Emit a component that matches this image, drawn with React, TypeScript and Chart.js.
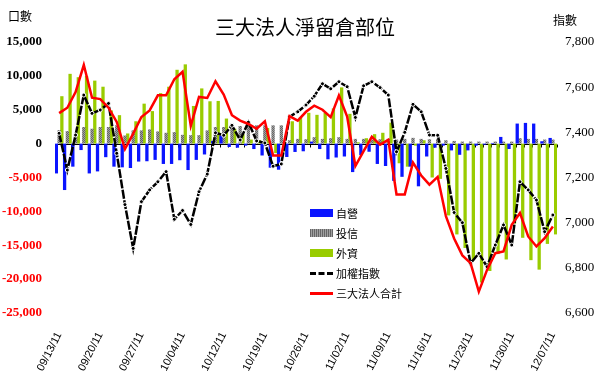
import React, { useEffect, useRef } from 'react';
import { Chart, registerables } from 'chart.js';

Chart.register(...registerables);

const dates = [
  '09/13/11','09/14/11','09/15/11','09/16/11','09/19/11','09/20/11','09/21/11','09/22/11','09/23/11','09/26/11','09/27/11','09/28/11','09/29/11','09/30/11',
  '10/03/11','10/04/11','10/05/11','10/06/11','10/07/11','10/11/11','10/12/11','10/13/11','10/14/11','10/17/11','10/18/11','10/19/11','10/20/11','10/21/11','10/24/11','10/25/11','10/26/11','10/27/11','10/28/11','10/31/11',
  '11/01/11','11/02/11','11/03/11','11/04/11','11/07/11','11/08/11','11/09/11','11/10/11','11/11/11','11/14/11','11/15/11','11/16/11','11/17/11','11/18/11','11/21/11','11/22/11','11/23/11','11/24/11','11/25/11','11/28/11','11/29/11','11/30/11',
  '12/01/11','12/02/11','12/05/11','12/06/11','12/07/11',
];

// 自營
const dealers = [
  -4400, -6850, -3400, -950, -4400, -4100, -2000, -3400, -3500, -3600,
  -2650, -2600, -2400, -3000, -3000, -2450, -3900, -2400, -1600, 400,
  1200, -500, -600, -300, -800, -1750, -3550, -3850, -1970, -1230,
  -1130, 300, -800, -2310, -2050, -1900, -4200, -1700, -1200, -3000,
  -3300, -5500, -4900, -3400, -6300, -1900, -600, -300, -1000, -1650,
  -1000, -300, -150, 100, 990, -790, 2960, 3060, 2960, 350,
  840,
];

// 投信
const trusts = [
  2000, 1850, 1400, 2450, 2200, 2450, 2450, 2700, 1200, 1950,
  1950, 2100, 1800, 1600, 1700, 1300, 1250, 1250, 1950, 2450,
  2450, 2500, 2600, 2600, 2700, 2700, 2700, 2700, 500, 700,
  650, 950, 700, 800, 950, 700, 700, 700, 600, 650,
  700, 600, 700, 850, 700, 650, 700, 500, 400, 300,
  300, 300, 300, 300, 300, 300, 800, 700, 700, 600,
  600,
];

// 外資
const foreign = [
  7000, 10300, 9800, 10000, 9300, 8400, 4900, 4200, 1500, 3300,
  5900, 4800, 7450, 8400, 10900, 11700, 5560, 8150, 6250, 6300,
  3700, 2200, 1400, 600, 500, 2300, -1400, -1200, 3300, 3900,
  4550, 4250, 4550, 5200, 8300, 4400, 200, 800, 1400, 1600,
  3100, -2900, -3400, -300, 500, -5000, -5200, -10600, -13400, -15400,
  -17200, -20500, -18800, -16300, -17100, -11800, -13900, -17200, -18600, -14800,
  -13400,
];

// 三大法人合計
const total = [
  4500, 5300, 7600, 11600, 6770, 6570, 5300, 3200, -800, 1480,
  3940, 4900, 7130, 7130, 9500, 10600, 2610, 6890, 6740, 9200,
  7230, 4200, 3400, 2900, 2200, 3300, -1770, -1770, 4050, 3400,
  4700, 5600, 5000, 3900, 7100, 4000, -3300, -1100, 1000, -150,
  560, -7500, -7500, -2800, -4700, -6050, -4900, -10700, -14000, -16500,
  -17650, -21840, -18640, -16170, -15920, -11980, -10250, -13700, -15180, -13950,
  -12230,
];

// 加權指數
const taiex = [
  7396, 7233, 7388, 7565, 7484, 7499, 7528, 7307, 7080, 6886,
  7093, 7145, 7181, 7226, 7015, 7054, 6992, 7137, 7215, 7398,
  7387, 7431, 7366, 7445, 7362, 7353, 7250, 7260, 7469, 7491,
  7521, 7560, 7615, 7593, 7624, 7602, 7466, 7606, 7624, 7598,
  7565, 7314, 7400, 7524, 7491, 7388, 7387, 7240, 7045, 7000,
  6820, 6864, 6805, 6901, 6990, 6901, 7181, 7145, 7100, 6960,
  7034,
];

const leftTicks = [-25000, -20000, -15000, -10000, -5000, 0, 5000, 10000, 15000];
const rightTicks = [6600, 6800, 7000, 7200, 7400, 7600, 7800];
const labelEvery = 5;

const fmt = (v: number) => v.toLocaleString('en-US');

const zeroLinePlugin = {
  id: 'zeroLine',
  beforeDatasetsDraw(chart: any) {
    const { ctx, chartArea, scales } = chart;
    const y0 = Math.round(scales.y.getPixelForValue(0)) + 0.5;
    ctx.save();
    ctx.strokeStyle = '#000';
    ctx.lineWidth = 1;
    ctx.beginPath();
    ctx.moveTo(chartArea.left, y0);
    ctx.lineTo(chartArea.right, y0);
    const n = dates.length;
    const w = (chartArea.right - chartArea.left) / n;
    for (let i = 0; i <= n; i++) {
      const x = Math.round(chartArea.left + i * w) + 0.5;
      ctx.moveTo(x, y0);
      ctx.lineTo(x, y0 + 3);
    }
    ctx.stroke();
    ctx.restore();
  },
};

export default function App() {
  const ref = useRef<HTMLCanvasElement | null>(null);

  useEffect(() => {
    document.body.style.margin = '0';
    const canvas = ref.current;
    if (!canvas) return;

    const pc = document.createElement('canvas');
    pc.width = 2;
    pc.height = 2;
    const pctx = pc.getContext('2d')!;
    pctx.fillStyle = '#a0a0a0';
    pctx.fillRect(0, 0, 2, 2);
    pctx.fillStyle = '#666666';
    pctx.fillRect(0, 0, 1, 1);
    pctx.fillRect(1, 1, 1, 1);
    const ctx = canvas.getContext('2d')!;
    const grayPattern = ctx.createPattern(pc, 'repeat') || '#808080';

    const barCommon = { yAxisID: 'y', barPercentage: 1.2, categoryPercentage: 1 };

    const chart = new Chart(canvas, {
      type: 'bar',
      data: {
        labels: dates,
        datasets: [
          {
            type: 'line',
            label: '三大法人合計',
            data: total,
            yAxisID: 'y',
            borderColor: '#ff0000',
            borderWidth: 2.5,
            pointRadius: 0,
            tension: 0,
            order: 0,
          } as any,
          {
            type: 'line',
            label: '加權指數',
            data: taiex,
            yAxisID: 'y1',
            borderColor: '#000000',
            borderWidth: 2.5,
            borderDash: [9, 1.5],
            pointRadius: 2,
            pointBackgroundColor: '#000000',
            pointBorderColor: '#ffffff',
            pointBorderWidth: 1,
            tension: 0,
            order: 1,
          } as any,
          { label: '自營', data: dealers, backgroundColor: '#0a14ff', order: 2, ...barCommon },
          { label: '投信', data: trusts, backgroundColor: grayPattern as any, order: 3, ...barCommon },
          { label: '外資', data: foreign, backgroundColor: '#99cc00', order: 4, ...barCommon },
        ],
      },
      options: {
        responsive: false,
        animation: false,
        devicePixelRatio: 1,
        layout: { padding: { top: 42, left: 0, right: 0, bottom: 0 } },
        plugins: {
          legend: { display: false },
          tooltip: { enabled: false },
          title: { display: false },
        },
        scales: {
          x: {
            type: 'category',
            grid: { display: false, drawTicks: false },
            border: { display: false },
            ticks: {
              autoSkip: false,
              minRotation: 63,
              maxRotation: 63,
              padding: 17,
              color: '#000',
              font: { family: 'Liberation Sans, Arial, sans-serif', size: 11 },
              callback: (_v: any, i: number) => (i % labelEvery === 0 ? dates[i] : ''),
            },
            afterFit: (scale: any) => {
              scale.height = 73;
            },
          },
          y: {
            position: 'left',
            min: leftTicks[0],
            max: leftTicks[leftTicks.length - 1],
            grid: { display: false, drawTicks: false },
            border: { display: false },
            ticks: {
              stepSize: leftTicks[1] - leftTicks[0],
              padding: 13,
              color: (c: any) => (c.tick && c.tick.value < 0 ? '#ff0000' : '#000000'),
              font: { family: 'Liberation Serif, Times New Roman, serif', size: 13, weight: 'bold' },
              callback: (v: any) => fmt(Number(v)),
            },
            afterFit: (scale: any) => {
              scale.width = 55;
            },
          },
          y1: {
            position: 'right',
            min: rightTicks[0],
            max: rightTicks[rightTicks.length - 1],
            grid: { display: false, drawTicks: false },
            border: { display: false },
            ticks: {
              stepSize: rightTicks[1] - rightTicks[0],
              padding: 8,
              color: '#000',
              font: { family: 'Liberation Serif, Times New Roman, serif', size: 13 },
              callback: (v: any) => fmt(Number(v)),
            },
            afterFit: (scale: any) => {
              scale.width = 43;
            },
          },
        },
      } as any,
      plugins: [zeroLinePlugin],
    });
    return () => chart.destroy();
  }, []);

  const cjk = '"Noto Sans CJK TC", "Noto Sans CJK SC", sans-serif';
  const legendRow = (top: number) => ({
    position: 'absolute' as const,
    left: 310,
    top: top - 8,
    height: 16,
    display: 'flex',
    alignItems: 'center',
    fontFamily: cjk,
    fontSize: 11,
    color: '#000',
    whiteSpace: 'nowrap' as const,
  });
  const box = (bg: string) => ({ width: 23, height: 8, background: bg, marginRight: 3 });

  return (
    <div style={{ position: 'relative', width: 600, height: 386, background: '#fff', overflow: 'hidden' }}>
      <canvas ref={ref} width={600} height={386} style={{ display: 'block', width: 600, height: 386 }} />
      <div style={{ position: 'absolute', left: 0, width: 610, top: 13, textAlign: 'center', fontFamily: cjk, fontSize: 20, lineHeight: '28px', color: '#000' }}>
        三大法人淨留倉部位
      </div>
      <div style={{ position: 'absolute', left: 8, top: 8, fontFamily: cjk, fontSize: 12, lineHeight: '16px', color: '#000' }}>口數</div>
      <div style={{ position: 'absolute', left: 553, top: 12, fontFamily: cjk, fontSize: 12, lineHeight: '16px', color: '#000' }}>指數</div>

      <div style={legendRow(213)}>
        <div style={box('#0a14ff')} />
        <span>自營</span>
      </div>
      <div style={legendRow(233)}>
        <div style={box('repeating-linear-gradient(90deg, #666666 0 1px, #a0a0a0 1px 2px)')} />
        <span>投信</span>
      </div>
      <div style={legendRow(253)}>
        <div style={box('#99cc00')} />
        <span>外資</span>
      </div>
      <div style={legendRow(273)}>
        <div style={{ width: 23, height: 0, borderTop: '3px dashed #000', marginRight: 3 }} />
        <span>加權指數</span>
      </div>
      <div style={legendRow(293)}>
        <div style={{ width: 23, height: 3, background: '#ff0000', marginRight: 3 }} />
        <span>三大法人合計</span>
      </div>
    </div>
  );
}
